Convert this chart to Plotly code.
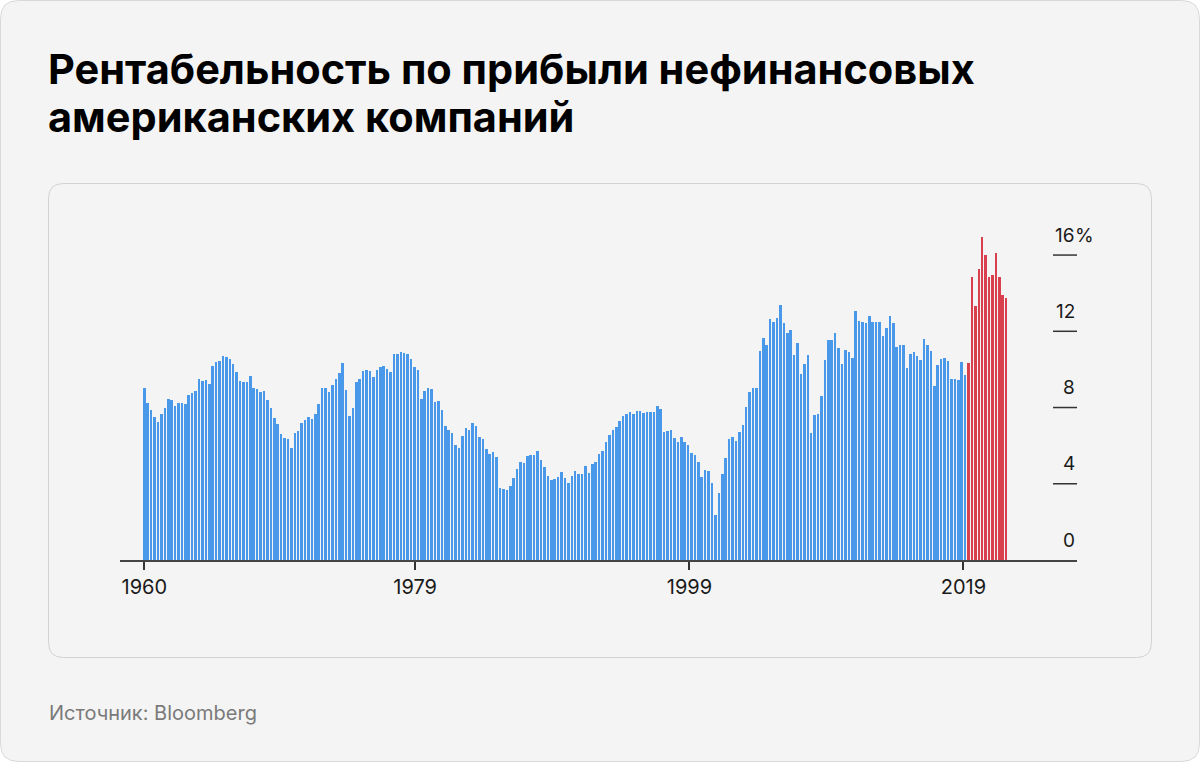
import plotly.graph_objects as go

# ---- data (quarterly, 1960Q1 .. 2023Q1), % ----
start_year = 1960
margins = [
    9.02, 8.24, 7.85, 7.49, 7.22, 7.64, 7.96, 8.43, 8.39, 8.10,
    8.25, 8.22, 8.18, 8.67, 8.78, 8.88, 9.50, 9.37, 9.44, 9.22,
    10.19, 10.37, 10.42, 10.72, 10.67, 10.53, 10.27, 9.86, 9.37, 9.36,
    9.32, 9.64, 9.04, 8.99, 8.81, 8.87, 8.38, 7.96, 7.45, 7.14,
    6.61, 6.38, 6.33,
    5.89, 6.66, 6.78, 7.20, 7.33, 7.49, 7.41, 7.66, 8.18, 9.02,
    9.04, 8.83, 9.17, 9.51, 9.80, 10.32, 8.92, 7.54, 7.96, 9.32,
    9.50, 9.92, 9.99, 9.93, 9.60, 9.95, 10.14, 10.16, 10.04, 9.86,
    10.81, 10.79, 10.93, 10.84, 10.79, 10.53, 10.11, 9.97, 8.43, 8.88,
    9.01, 8.96, 8.29, 8.36, 7.85, 7.05, 6.82,
    6.65, 6.02, 5.86, 6.51, 6.94, 6.84, 7.19, 7.03, 6.45, 6.33,
    5.81, 5.56, 5.68, 5.42, 3.79, 3.72, 3.69, 3.90, 4.29, 4.76,
    5.13, 5.07, 5.44, 5.51, 5.49, 5.70, 5.26, 4.86, 4.42, 4.20,
    4.25, 4.35, 4.62, 4.30, 4.02, 4.42, 4.65, 4.53, 4.53, 4.93,
    4.58, 5.02, 5.14, 5.56, 5.70, 6.18, 6.56,
    6.82, 6.96, 7.28, 7.54, 7.66, 7.78, 7.68, 7.83, 7.83, 7.69,
    7.78, 7.76, 7.76, 8.08, 7.94, 6.72, 6.75, 6.84, 6.42, 6.21,
    6.47, 6.18, 6.02, 5.61, 5.49, 5.16, 4.37, 4.74, 4.69, 4.06,
    2.36, 3.50, 4.51, 5.35, 6.33,
    6.45, 6.23, 6.70, 7.10, 8.01, 8.83, 9.01, 9.04, 10.98, 11.66,
    11.26, 12.64, 12.47, 12.68, 13.38, 12.42, 11.89, 12.08, 10.76, 11.40,
    9.78, 10.28, 10.76, 6.65, 7.61, 7.64, 8.60, 10.51, 11.54, 11.56,
    11.89, 11.11,
    10.27, 11.03, 10.90, 10.58, 13.05, 12.56, 12.50, 12.45, 12.82, 12.50,
    12.50, 12.49, 11.75, 12.19, 12.80, 12.45, 11.16, 11.26, 11.30, 10.06,
    10.81, 10.91, 10.69, 10.48, 11.59, 11.26, 10.95, 9.14, 10.25, 10.55,
    10.61, 10.44, 9.51, 9.51, 9.43, 10.37, 9.70,
    10.35, 14.83, 13.33, 15.27, 16.93, 16.02, 14.83, 14.95, 16.12, 14.86,
    13.92, 13.73,
]
highlight_from = 2020.25          # 2020Q2 onwards shown in red
x_tick_pos = [0, 79.2, 159.4, 239.5]   # bar-index positions of the year marks
x_tick_text = ["1960", "1979", "1999", "2019"]
y_ticks = [0, 4, 8, 12, 16]

title_line1 = "Рентабельность по прибыли нефинансовых"
title_line2 = "американских компаний"
source_text = "Источник: Bloomberg"

BLUE = "#4A98EA"
RED = "#D9404E"

idx = list(range(len(margins)))
period = [start_year + i / 4 for i in idx]
colors = [RED if p >= highlight_from else BLUE for p in period]

# ---- layout geometry (pixels) ----
WIDTH, HEIGHT = 1200, 762
L, R, T, B = 120, 1077, 236, 560
PW, PH = R - L, B - T
Y_MAX = 17.0
step_px = 3.42
x0_px = 144.3
x_min = (L - x0_px) / step_px
x_max = (R - x0_px) / step_px


def px(xp):
    return (xp - L) / PW


def py(yp):
    return (B - yp) / PH


def rounded(x0, y0, x1, y1, r):
    X = lambda v: px(v)
    Y = lambda v: py(v)
    return (f"M {X(x0 + r)} {Y(y0)} L {X(x1 - r)} {Y(y0)} "
            f"Q {X(x1)} {Y(y0)} {X(x1)} {Y(y0 + r)} "
            f"L {X(x1)} {Y(y1 - r)} Q {X(x1)} {Y(y1)} {X(x1 - r)} {Y(y1)} "
            f"L {X(x0 + r)} {Y(y1)} Q {X(x0)} {Y(y1)} {X(x0)} {Y(y1 - r)} "
            f"L {X(x0)} {Y(y0 + r)} Q {X(x0)} {Y(y0)} {X(x0 + r)} {Y(y0)} Z")


fig = go.Figure()
fig.add_trace(go.Bar(
    x=idx, y=margins, marker=dict(color=colors, line=dict(width=0)),
    width=0.74, hoverinfo="y",
))

FONT = "Inter"
shapes = [
    dict(type="path", xref="paper", yref="paper", layer="below",
         path=rounded(0.5, 0.5, 1199.5, 761.5, 18),
         fillcolor="#F4F4F4", line=dict(color="#D9D9D9", width=1)),
    dict(type="path", xref="paper", yref="paper", layer="below",
         path=rounded(48.5, 183.5, 1151.5, 657.5, 15),
         fillcolor="#F4F4F4", line=dict(color="#D2D2D2", width=1)),
]
annotations = []
for v in y_ticks:
    if v > 0:
        shapes.append(dict(type="line", xref="paper", yref="y",
                           x0=px(1053), x1=1, y0=v, y1=v,
                           line=dict(color="#333333", width=1.5)))
    annotations.append(dict(xref="paper", yref="y", x=1, y=v, yshift=20,
                            text=str(v), showarrow=False, xanchor="right",
                            yanchor="middle",
                            font=dict(family=FONT, size=19, color="#1A1A1A")))
annotations.append(dict(xref="paper", yref="y", x=1, y=y_ticks[-1], yshift=20,
                        xshift=-4,
                        text="%", showarrow=False, xanchor="left",
                        yanchor="middle",
                        font=dict(family=FONT, size=19, color="#1A1A1A")))
annotations += [
    dict(xref="paper", yref="paper", x=px(46), y=py(69), text=f"<b>{title_line1}</b>",
         showarrow=False, xanchor="left", yanchor="middle",
         font=dict(family=FONT, size=41.5, color="#000000")),
    dict(xref="paper", yref="paper", x=px(46), y=py(117), text=f"<b>{title_line2}</b>",
         showarrow=False, xanchor="left", yanchor="middle",
         font=dict(family=FONT, size=41.5, color="#000000")),
    dict(xref="paper", yref="paper", x=px(47), y=py(713), text=source_text,
         showarrow=False, xanchor="left", yanchor="middle",
         font=dict(family=FONT, size=20, color="#7A7A7A")),
]

fig.update_layout(
    width=WIDTH, height=HEIGHT,
    margin=dict(l=L, r=WIDTH - R, t=T, b=HEIGHT - B, pad=0),
    paper_bgcolor="#FFFFFF", plot_bgcolor="rgba(0,0,0,0)",
    showlegend=False, bargap=0,
    shapes=shapes, annotations=annotations,
    xaxis=dict(range=[x_min, x_max], tickmode="array", tickvals=x_tick_pos,
               ticktext=x_tick_text, ticks="outside", ticklen=8, tickwidth=1.5,
               tickcolor="#333333", showline=True, linecolor="#444444",
               linewidth=1.5, showgrid=False, zeroline=False,
               tickfont=dict(family=FONT, size=20, color="#1A1A1A"),
               fixedrange=True),
    yaxis=dict(range=[0, Y_MAX], showticklabels=False, showgrid=False,
               zeroline=False, showline=False, ticks="", fixedrange=True),
)

fig.write_html("out.html", config={"displayModeBar": False})
